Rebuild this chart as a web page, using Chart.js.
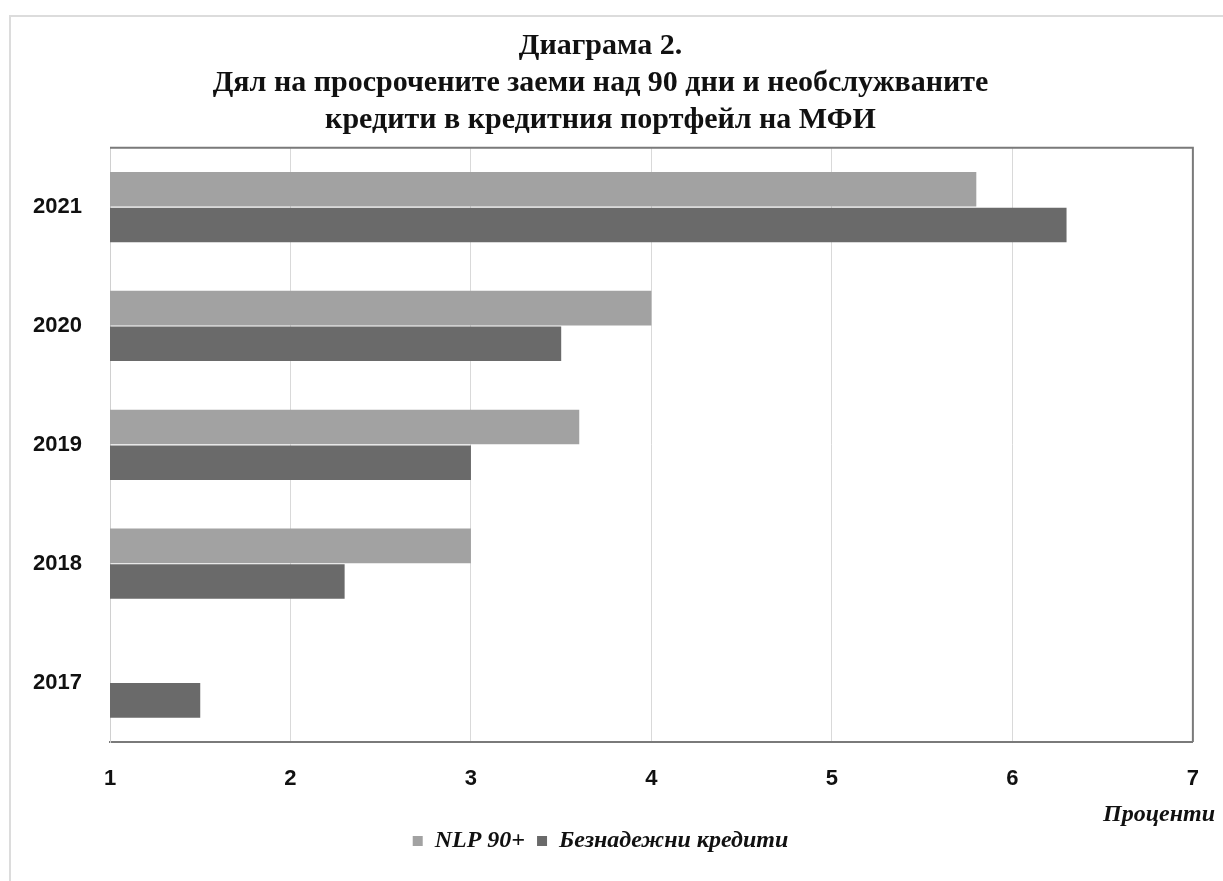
<!DOCTYPE html>
<html>
<head>
<meta charset="utf-8">
<script src="https://cdn.jsdelivr.net/npm/chart.js@4.4.1/dist/chart.umd.min.js"></script>
<style>
  html, body { margin: 0; padding: 0; background: #fff; }
  #wrap { position: relative; width: 1223px; height: 881px; }
  #frame { position: absolute; left: 9px; top: 15px; right: 0; bottom: 0;
           border-top: 2px solid #dcdcdc; border-left: 2px solid #dcdcdc; }
  canvas { position: absolute; left: 0; top: 0; }
</style>
</head>
<body>
<div id="wrap">
  <div id="frame"></div>
  <canvas id="myChart" width="1223" height="881"></canvas>
</div>
<script>
const years = ['2021', '2020', '2019', '2018', '2017'];
const nlp90 = [5.8, 4.0, 3.6, 3.0, null];
const bezn = [6.3, 3.5, 3.0, 2.3, 1.5];
const xTicks = [1, 2, 3, 4, 5, 6, 7];

const titleLines = [
  'Диаграма 2.',
  'Дял на просрочените заеми над 90 дни и необслужваните',
  'кредити в кредитния портфейл на МФИ',
];

const ctx = document.getElementById('myChart');

// рамка на графичната област + надпис "Проценти"
const plotFrame = {
  id: 'plotFrame',
  afterDatasetsDraw(chart) {
    const { ctx, chartArea: a } = chart;
    ctx.save();
    ctx.strokeStyle = '#7a7a7a';
    ctx.lineWidth = 2;
    ctx.beginPath();
    ctx.moveTo(a.left, a.top);
    ctx.lineTo(a.right, a.top);
    ctx.lineTo(a.right, a.bottom);
    ctx.stroke();
    ctx.font = 'italic bold 24px "Liberation Serif"';
    ctx.fillStyle = '#111';
    ctx.textAlign = 'right';
    ctx.textBaseline = 'middle';
    ctx.fillText('Проценти', chart.width - 8, a.bottom + 73);
    ctx.restore();
  },
};

new Chart(ctx, {
  type: 'bar',
  data: {
    labels: years,
    datasets: [
      {
        label: 'NLP 90+',
        data: nlp90,
        backgroundColor: '#a2a2a2',
        borderWidth: 0,
        categoryPercentage: 0.6,
        barPercentage: 0.97,
      },
      {
        label: 'Безнадежни кредити',
        data: bezn,
        backgroundColor: '#6a6a6a',
        borderWidth: 0,
        categoryPercentage: 0.6,
        barPercentage: 0.97,
      },
    ],
  },
  options: {
    indexAxis: 'y',
    responsive: false,
    animation: false,
    layout: { padding: { top: 28, left: 0, right: 22, bottom: 18 } },
    plugins: {
      title: {
        display: true,
        text: titleLines,
        color: '#111',
        font: { family: '"Liberation Serif"', size: 30, weight: 'bold', lineHeight: 1.23 },
        padding: { top: 0, bottom: 9 },
      },
      legend: {
        position: 'bottom',
        labels: {
          usePointStyle: true,
          pointStyle: 'rect',
          boxWidth: 10,
          boxHeight: 10,
          color: '#111',
          padding: 12,
          font: { family: '"Liberation Serif"', size: 24, style: 'italic', weight: 'bold' },
        },
      },
      tooltip: { enabled: false },
    },
    scales: {
      x: {
        min: 1,
        max: 7,
        afterBuildTicks: (s) => { s.ticks = xTicks.map((v) => ({ value: v })); },
        afterFit: (s) => { s.height = 75; },
        ticks: {
          color: '#111',
          padding: 24,
          font: { family: '"Liberation Sans"', size: 22, weight: 'bold' },
        },
        grid: { color: '#d9d9d9', lineWidth: 1, drawTicks: false },
        border: { color: '#7a7a7a', width: 2 },
      },
      y: {
        afterFit: (s) => { s.width = 110; },
        ticks: {
          color: '#111',
          padding: 28,
          font: { family: '"Liberation Sans"', size: 22, weight: 'bold' },
        },
        grid: { display: false, drawTicks: false },
        border: { color: '#d0d0d0', width: 1 },
      },
    },
  },
  plugins: [plotFrame],
});
</script>
</body>
</html>
